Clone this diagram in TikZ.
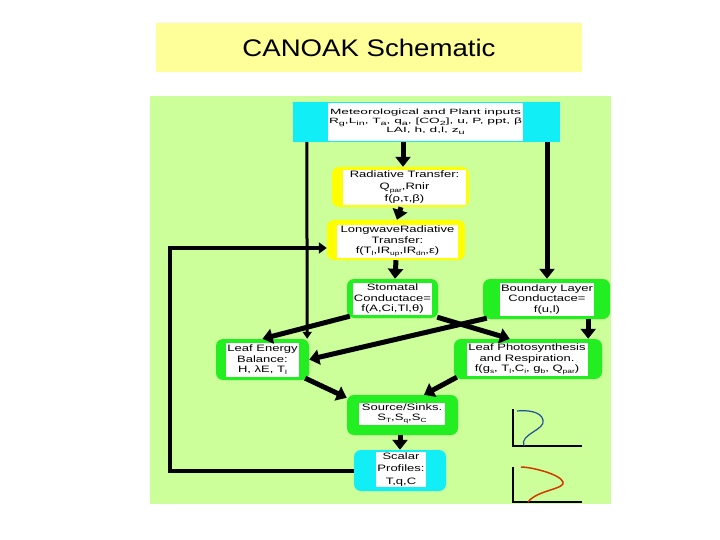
\documentclass[tikz,border=0pt]{standalone}
\usepackage{fontspec}
\setmainfont{Liberation Sans}
\newfontfamily\bxfont[FakeStretch=1.4]{Liberation Sans}
\newfontfamily\topfont[FakeStretch=1.8]{Liberation Sans}
\newfontfamily\ttlfont[FakeStretch=1.15]{Liberation Sans}
\usetikzlibrary{arrows.meta}
\newcommand{\lo}[1]{\raisebox{-0.45ex}{\fontsize{6}{6}\selectfont #1}}
\definecolor{panelgreen}{HTML}{CCFF99}
\definecolor{titleyellow}{HTML}{FFFF99}
\definecolor{boxyellow}{HTML}{FFFF00}
\definecolor{boxgreen}{HTML}{22EE22}
\definecolor{boxcyan}{HTML}{11EEF5}
\definecolor{curveblue}{HTML}{1F4E9A}
\definecolor{curvered}{HTML}{D03A00}
\begin{document}
\begin{tikzpicture}[x=1pt,y=-1pt,
  ybox/.style={fill=boxyellow, rounded corners=7pt, inner sep=0pt},
  gbox/.style={fill=boxgreen, rounded corners=7pt, inner sep=0pt},
  cbox/.style={fill=boxcyan, rounded corners=7pt, inner sep=0pt},
  wbox/.style={fill=white, inner sep=1pt, align=center,
     font=\bxfont\fontsize{9.3}{10.5}\selectfont},
  arr/.style={line width=5pt, -{Triangle[width=15pt,length=10pt]}},
  thinarr/.style={line width=3pt, -{Triangle[width=9pt,length=7pt]}},
  looparr/.style={line width=4pt, -{Triangle[width=11pt,length=8pt]}},
  axis/.style={line width=1.5pt, line cap=rect}
]
\useasboundingbox (0,0) rectangle (720,540);
\fill[white] (0,0) rectangle (720,540);

% title
\node[fill=titleyellow, minimum width=426pt, minimum height=49pt, inner sep=0pt,
  font=\ttlfont\fontsize{24}{28}\selectfont] (title) at (369,47.5) {CANOAK Schematic};

% panel
\fill[panelgreen] (150,96) rectangle (611,504);

% top inputs
\node[fill=boxcyan, minimum width=267pt, minimum height=40pt, inner sep=0pt] (top) at (426.5,122) {};
\node[wbox, font=\topfont\fontsize{7.6}{8.5}\selectfont, minimum width=185pt, minimum height=38pt] (toptxt) at (425.5,122)
  {Meteorological and Plant inputs\\R\lo{g},L\lo{in}, T\lo{a}, q\lo{a}, [CO\lo{2}], u, P, ppt, β\\LAI, h, d,l, z\lo{u}};

% radiative transfer
\node[ybox, minimum width=137pt, minimum height=40pt] (rad) at (400.5,187) {};
\node[wbox, font=\bxfont\fontsize{9.3}{12}\selectfont, minimum width=123pt, minimum height=35pt] (radtxt) at (404.5,187.5)
  {Radiative Transfer:\\Q\lo{par},Rnir\\f(ρ,τ,β)};

% longwave
\node[ybox, minimum width=138pt, minimum height=40pt] (long) at (396,240) {};
\node[wbox, minimum width=121pt, minimum height=33pt] (longtxt) at (397.5,241.5)
  {LongwaveRadiative\\Transfer:\\f(T\lo{l},IR\lo{up},IR\lo{dn},ε)};

% stomatal
\node[gbox, minimum width=91pt, minimum height=39pt] (stom) at (392.5,298.5) {};
\node[wbox, minimum width=79pt, minimum height=32pt] (stomtxt) at (392.5,299)
  {Stomatal\\Conductace=\\f(A,Ci,Tl,θ)};

% boundary layer
\node[gbox, minimum width=127pt, minimum height=40pt] (bound) at (546.5,299) {};
\node[wbox, minimum width=94pt, minimum height=33pt] (boundtxt) at (547,299.5)
  {Boundary Layer\\Conductace=\\f(u,l)};

% leaf energy
\node[gbox, minimum width=93pt, minimum height=41pt] (le) at (262.5,359.5) {};
\node[wbox, minimum width=73pt, minimum height=34pt] (letxt) at (262.5,360)
  {Leaf Energy\\Balance:\\H, λE, T\lo{l}};

% leaf photosynthesis
\node[gbox, minimum width=148pt, minimum height=40pt] (lp) at (528,359) {};
\node[wbox, minimum width=121pt, minimum height=33pt] (lptxt) at (527,359.5)
  {Leaf Photosynthesis\\and Respiration.\\f(g\lo{s}, T\lo{l},C\lo{i}, g\lo{b}, Q\lo{par})};

% source / sinks
\node[gbox, minimum width=111pt, minimum height=40pt] (src) at (402.5,415) {};
\node[wbox, font=\bxfont\fontsize{9.3}{9.5}\selectfont, minimum width=86pt, minimum height=21pt] (srctxt) at (402,414)
  {Source/Sinks.\\S\lo{T},S\lo{q},S\lo{C}};

% scalar profiles
\node[cbox, minimum width=92pt, minimum height=41pt] (scal) at (400,470.5) {};
\node[wbox, font=\bxfont\fontsize{9.3}{12.3}\selectfont, minimum width=48pt, minimum height=32pt] (scaltxt) at (401,469.5)
  {Scalar\\Profiles:\\T,q,C};

% connectors
\draw[arr] ([xshift=-23.5pt]top.south) -- ([xshift=2.5pt]rad.north);
\draw[arr] ([xshift=0.5pt]rad.south) -- ([xshift=1pt]long.north);
\draw[arr] (long.south) -- ([xshift=2.5pt]stom.north);
\draw[arr] ([xshift=3pt,yshift=2pt]stom.south west) -- (le.north);
\draw[arr] ([xshift=-1pt,yshift=1pt]stom.south east) -- ([xshift=56pt]lp.north west);
\draw[arr] ([xshift=4pt,yshift=1pt]bound.south west) -- (le.east);
\draw[arr] ([xshift=-22pt]bound.south east) -- ([xshift=-14pt]lp.north east);
\draw[thinarr] ([xshift=14pt]top.south west) -- ([xshift=-2pt]le.north east);
\draw[arr] ([xshift=120.5pt]top.south) -- ([xshift=0.5pt]bound.north);
\draw[arr] ([xshift=-4pt,yshift=2pt]le.south east) -- ([yshift=-3pt]src.north west);
\draw[arr] ([xshift=3pt,yshift=2pt]lp.south west) -- ([xshift=21.5pt]src.north);
\draw[arr] ([xshift=-2.5pt]src.south) -- (scal.north);
\coordinate (loopcorner) at (170,471);
\draw[looparr] ([yshift=-0.5pt]scal.west) -- (loopcorner) |- ([yshift=-8pt]long.west);

% profile sketches
\draw[axis] (513,410) -- (513,446) -- (581,446);
\draw[curveblue, line width=1.2pt] (524,446) .. controls (519,434) and (546,430) .. (543,420)
   .. controls (541,411) and (526,410) .. (517,411);
\draw[axis] (513,468) -- (513,502) -- (581,502);
\draw[curvered, line width=1.5pt] (528,502) .. controls (537,490) and (566,489) .. (563,482)
   .. controls (560,474) and (531,467) .. (521,467);
\end{tikzpicture}
\end{document}
